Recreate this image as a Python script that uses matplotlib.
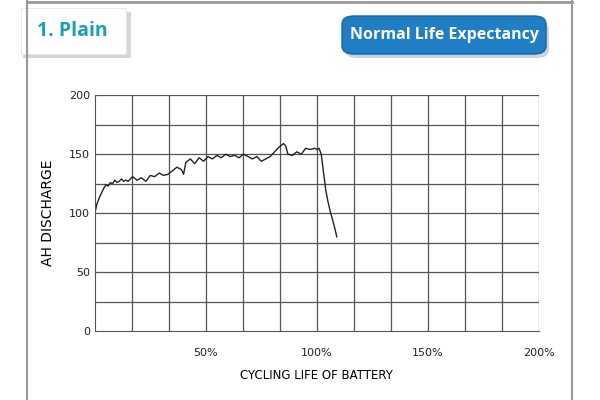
import matplotlib
matplotlib.use("Agg")
import matplotlib.pyplot as plt
from matplotlib.patches import FancyBboxPatch, Rectangle
import numpy as np

# ── Data ────────────────────────────────────────────────────────
life_pct = [0, 1, 2, 3, 4, 5, 6, 7, 8, 9, 10, 11, 12, 13, 14, 15, 17, 19, 21, 23,
            25, 27, 29, 31, 33, 35, 37, 39, 40, 41, 43, 45, 47, 49, 51, 53, 55, 57,
            59, 61, 63, 65, 67, 69, 71, 73, 75, 77, 79, 81, 83, 85, 86, 87, 89, 91,
            93, 95, 97, 99, 100, 101, 102, 103, 104, 105, 106, 107, 108, 109]
ah_discharge = [100, 108, 113, 117, 121, 124, 123, 126, 125, 128, 126, 127, 129, 127,
                128, 127, 131, 128, 130, 127, 132, 131, 134, 132, 133, 136, 139, 137,
                133, 143, 146, 142, 147, 144, 148, 146, 149, 147, 150, 148, 149, 147,
                150, 148, 146, 148, 144, 146, 148, 152, 156, 159, 157, 150, 149, 152,
                150, 155, 154, 155, 154, 155, 150, 135, 120, 110, 102, 95, 88, 80]

# ── Figure ──────────────────────────────────────────────────────
fig = plt.figure(figsize=(6, 4), dpi=100)
fig.patch.set_facecolor("white")

# frame lines of the card
fig.add_artist(plt.Line2D([0.045, 0.045], [0, 1], color="#999999", lw=1.5))
fig.add_artist(plt.Line2D([0.953, 0.953], [0, 1], color="#999999", lw=1.5))
fig.add_artist(plt.Line2D([0.045, 0.953], [0.995, 0.995], color="#999999", lw=2))

# "1. Plain" label with shadow
fig.add_artist(Rectangle((0.038, 0.855), 0.18, 0.115, transform=fig.transFigure,
                         facecolor="#bbbbbb", edgecolor="none", alpha=0.6))
fig.add_artist(Rectangle((0.035, 0.865), 0.175, 0.115, transform=fig.transFigure,
                         facecolor="white", edgecolor="#e0e0e0", lw=0.5))
fig.text(0.12, 0.922, "1. Plain", color="#1a9fb5", fontsize=14, fontweight="bold",
         ha="center", va="center", family="Open Sans")

# blue button
fig.add_artist(FancyBboxPatch((0.575, 0.855), 0.34, 0.09, boxstyle="round,pad=0,rounding_size=0.02",
                              transform=fig.transFigure, facecolor="#9fb8c8",
                              edgecolor="none", alpha=0.6))
fig.add_artist(FancyBboxPatch((0.57, 0.865), 0.34, 0.095, boxstyle="round,pad=0,rounding_size=0.02",
                              transform=fig.transFigure, facecolor="#1f7ec4",
                              edgecolor="#16659f", lw=1))
fig.text(0.74, 0.912, "Normal Life Expectancy", color="white", fontsize=11.5,
         fontweight="bold", ha="center", va="center", family="Open Sans")

ax = fig.add_axes([0.158, 0.172, 0.74, 0.59])
ax.plot(life_pct, ah_discharge, color="#222222", lw=1.0)
ax.set_xlim(0, 200)
ax.set_ylim(0, 200)
for v in np.arange(100 / 6, 200.1, 100 / 6):
    ax.axvline(v, color="#555555", lw=0.9, zorder=0)
for v in range(25, 201, 25):
    ax.axhline(v, color="#555555", lw=0.9, zorder=0)
for s in ["top", "right"]:
    ax.spines[s].set_visible(False)
ax.spines["left"].set_color("#555555")
ax.spines["bottom"].set_color("#555555")
ax.set_yticks([0, 50, 100, 150, 200])
ax.set_xticks([50, 100, 150, 200])
ax.set_xticklabels(["50%", "100%", "150%", "200%"])
ax.tick_params(axis="both", length=0, labelsize=8, colors="#222222")
ax.tick_params(axis="x", pad=12)
ax.set_ylabel("AH DISCHARGE", fontsize=10, labelpad=10, family="DejaVu Sans")
ax.set_xlabel("CYCLING LIFE OF BATTERY", fontsize=8.5, labelpad=8)

fig.savefig("out.png", dpi=100, facecolor="white")
